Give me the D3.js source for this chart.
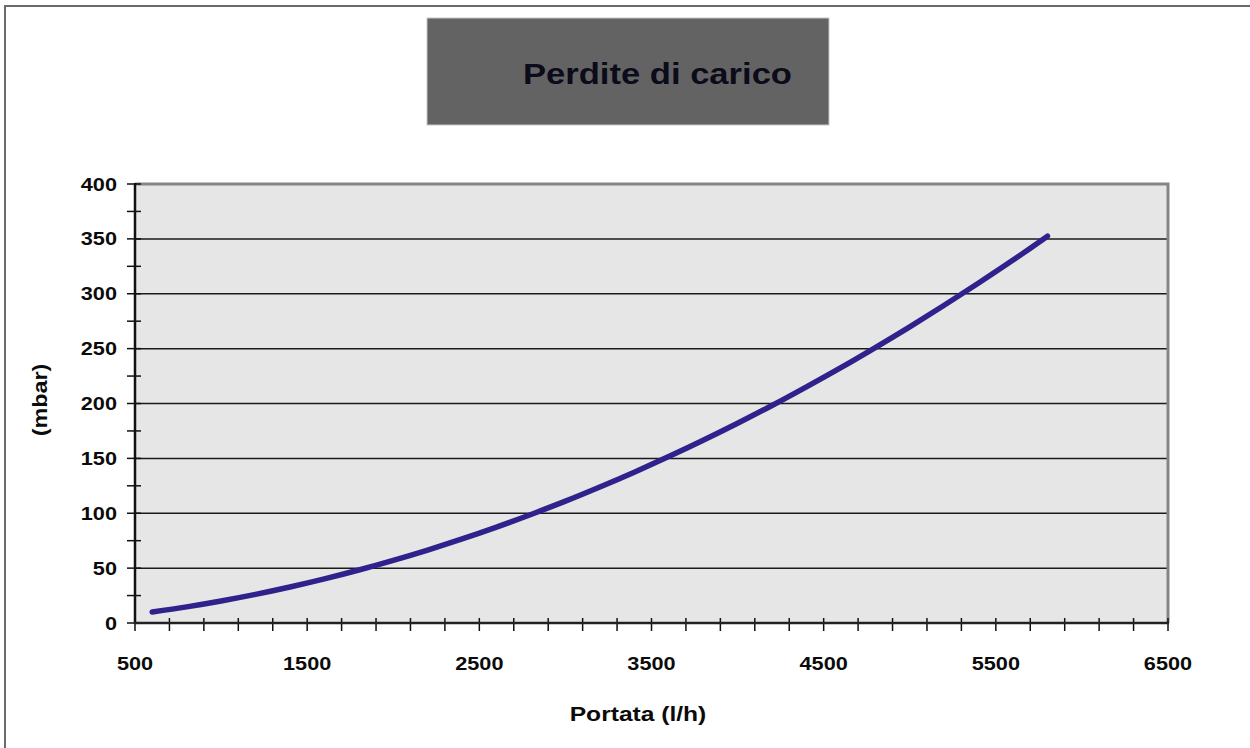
<!DOCTYPE html>
<html>
<head>
<meta charset="utf-8">
<script src="https://cdn.jsdelivr.net/npm/d3@7"></script>
<style>
  html, body { margin: 0; padding: 0; background: #fff; }
  svg text { font-family: "Liberation Sans", Arial, sans-serif; font-weight: bold; }
</style>
</head>
<body>
<div id="chart"></div>
<script>
// dati
const portata = [600, 800, 1000, 1200, 1400, 1600, 1800, 2000, 2200, 2400, 2600, 2800, 3000,
    3200, 3400, 3600, 3800, 4000, 4200, 4400, 4600, 4800, 5000, 5200, 5400, 5600, 5800];
const perdite = [10.0, 14.7, 20.1, 26.1, 32.8, 40.2, 48.3, 57.1, 66.5, 76.6, 87.4, 98.9, 111.0,
    123.9, 137.4, 151.6, 166.5, 182.0, 198.2, 215.2, 232.7, 251.0, 269.9, 289.5, 309.8, 330.7, 352.5];
const xTicks = [500, 1500, 2500, 3500, 4500, 5500, 6500];
const yTicks = [0, 50, 100, 150, 200, 250, 300, 350, 400];
const xMinorStep = 200;
const yMinorStep = 25;
const titolo = "Perdite di carico";
const xLabel = "Portata (l/h)";
const yLabel = "(mbar)";

const data = portata.map((q, i) => ({ q: q, p: perdite[i] }));

const width = 1250, height = 748;
const plot = { left: 135, right: 1168, top: 184, bottom: 623 };
const SX = 1.24; // testo "stirato" orizzontalmente come nell'originale

const svg = d3.select("#chart").append("svg")
    .attr("width", width)
    .attr("height", height);

// cornice esterna
svg.append("rect")
    .attr("x", 5).attr("y", 6)
    .attr("width", 1270).attr("height", 760)
    .attr("fill", "none")
    .attr("stroke", "#6a6a6a")
    .attr("stroke-width", 2);

// riquadro titolo
svg.append("rect")
    .attr("x", 427).attr("y", 18)
    .attr("width", 402).attr("height", 107)
    .attr("fill", "#636363")
    .attr("stroke", "#c8c8c8")
    .attr("stroke-width", 1);

svg.append("text")
    .attr("x", 523).attr("y", 84)
    .attr("textLength", 269)
    .attr("lengthAdjust", "spacingAndGlyphs")
    .style("font-size", "30px")
    .style("fill", "#0b0b1a")
    .text(titolo);

// scale
const x = d3.scaleLinear().domain([500, 6500]).range([plot.left, plot.right]);
const y = d3.scaleLinear().domain([0, 400]).range([plot.bottom, plot.top]);

// area del grafico
svg.append("rect")
    .attr("x", plot.left).attr("y", plot.top)
    .attr("width", plot.right - plot.left)
    .attr("height", plot.bottom - plot.top)
    .attr("fill", "#e6e6e6");

// griglia
svg.append("g")
    .selectAll("line")
    .data(yTicks.filter(d => d > 0 && d < 400))
    .enter().append("line")
    .attr("x1", plot.left).attr("x2", plot.right)
    .attr("y1", d => y(d)).attr("y2", d => y(d))
    .attr("stroke", "#1a1a1a")
    .attr("stroke-width", 1.5);

// bordi grigi sopra e a destra
svg.append("path")
    .attr("d", `M${plot.left},${plot.top}H${plot.right}V${plot.bottom}`)
    .attr("fill", "none")
    .attr("stroke", "#858585")
    .attr("stroke-width", 3);

// tacche minori
const yMinor = d3.range(0, 400 + 1, yMinorStep);
const xMinor = d3.range(500, 6500 + 1, xMinorStep);

svg.append("g")
    .selectAll("line")
    .data(yMinor)
    .enter().append("line")
    .attr("x1", plot.left - 8).attr("x2", plot.left + 6)
    .attr("y1", d => y(d)).attr("y2", d => y(d))
    .attr("stroke", "#111")
    .attr("stroke-width", 1.5);

svg.append("g")
    .selectAll("line")
    .data(xMinor)
    .enter().append("line")
    .attr("x1", d => x(d)).attr("x2", d => x(d))
    .attr("y1", plot.bottom - 5).attr("y2", plot.bottom + 8)
    .attr("stroke", "#111")
    .attr("stroke-width", 1.5);

// assi
svg.append("line")
    .attr("x1", plot.left).attr("x2", plot.left)
    .attr("y1", plot.top - 1).attr("y2", plot.bottom + 1)
    .attr("stroke", "#111").attr("stroke-width", 2.5);
svg.append("line")
    .attr("x1", plot.left - 1).attr("x2", plot.right + 1)
    .attr("y1", plot.bottom).attr("y2", plot.bottom)
    .attr("stroke", "#222").attr("stroke-width", 2.5);

// etichette asse Y
svg.append("g")
    .selectAll("text")
    .data(yTicks)
    .enter().append("text")
    .attr("transform", d => `translate(117,${y(d) + 6.5}) scale(${SX},1)`)
    .attr("text-anchor", "end")
    .style("font-size", "17.5px")
    .style("fill", "#0b0b0b")
    .text(d => d);

// etichette asse X
svg.append("g")
    .selectAll("text")
    .data(xTicks)
    .enter().append("text")
    .attr("transform", d => `translate(${x(d)},${plot.bottom + 47}) scale(${SX},1)`)
    .attr("text-anchor", "middle")
    .style("font-size", "17.5px")
    .style("fill", "#0b0b0b")
    .text(d => d);

// titoli assi
svg.append("text")
    .attr("transform", `translate(638,721) scale(1.2,1)`)
    .attr("text-anchor", "middle")
    .style("font-size", "20.5px")
    .style("fill", "#0b0b0b")
    .text(xLabel);

svg.append("text")
    .attr("transform", `translate(47,400) rotate(-90) scale(1.2,1)`)
    .attr("text-anchor", "middle")
    .style("font-size", "19.5px")
    .style("fill", "#0b0b0b")
    .text(yLabel);

// curva
const line = d3.line()
    .x(d => x(d.q))
    .y(d => y(d.p))
    .curve(d3.curveMonotoneX);

svg.append("path")
    .datum(data)
    .attr("fill", "none")
    .attr("stroke", "#30228c")
    .attr("stroke-width", 5.5)
    .attr("stroke-linecap", "round")
    .attr("d", line);
</script>
</body>
</html>
